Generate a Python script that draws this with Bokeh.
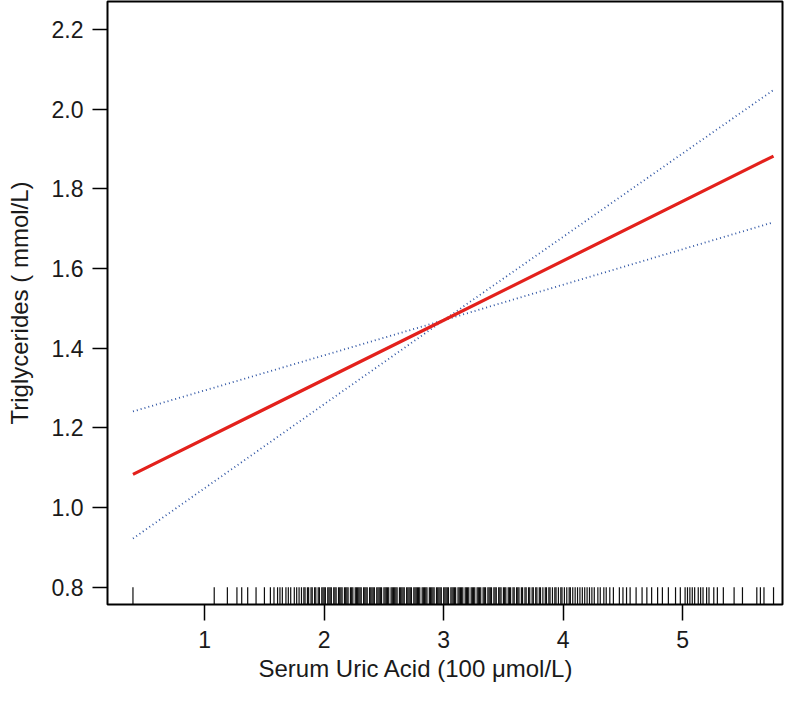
from bokeh.plotting import figure
from bokeh.models import Range1d, FixedTicker, PrintfTickFormatter, Title
from bokeh.embed import file_html
from bokeh.resources import INLINE

# fitted line and confidence band
fit_x = [0.40, 3.00, 5.76]
fit_y = [1.083, 1.470, 1.882]
lower_y = [0.922, 1.470, 1.716]
upper_y = [1.241, 1.470, 2.048]

# rug of observed serum uric acid values
rug_x = [
    0.40, 1.08, 1.19, 1.27, 1.31, 1.36, 1.43, 1.50, 1.55, 1.58, 1.61, 1.63,
    1.65, 1.68, 1.70, 1.72, 1.75, 1.77, 1.79,
    1.81, 1.83, 1.84, 1.86, 1.87, 1.89, 1.90, 1.92, 1.93, 1.95, 1.96, 1.98, 1.99,
    2.00, 2.01, 2.03, 2.04, 2.05, 2.06, 2.08, 2.09, 2.10, 2.12, 2.13, 2.14,
    2.15, 2.17, 2.18, 2.19, 2.20, 2.22, 2.23, 2.24, 2.26, 2.27, 2.28, 2.29,
    2.30, 2.31, 2.33, 2.34, 2.35, 2.36, 2.38, 2.39, 2.40, 2.41, 2.42, 2.44,
    2.45, 2.46, 2.47, 2.48, 2.50, 2.51, 2.52, 2.53, 2.54, 2.56, 2.57, 2.58,
    2.59, 2.60, 2.61, 2.63, 2.64, 2.65, 2.66, 2.67, 2.69, 2.70, 2.71, 2.72,
    2.73, 2.75, 2.76, 2.77, 2.78, 2.79, 2.80, 2.82, 2.83, 2.84, 2.85, 2.86,
    2.88, 2.89, 2.90, 2.91, 2.92, 2.94, 2.95, 2.96, 2.97, 2.98, 3.00, 3.01,
    3.02, 3.03, 3.04, 3.06, 3.07, 3.08, 3.09, 3.10, 3.12, 3.13, 3.14, 3.15,
    3.16, 3.18, 3.19, 3.20, 3.21, 3.23, 3.24, 3.25, 3.26, 3.28, 3.29, 3.30,
    3.31, 3.33, 3.34, 3.35, 3.37, 3.38, 3.39, 3.40, 3.42, 3.43, 3.44, 3.46,
    3.47, 3.48, 3.50, 3.51, 3.52, 3.54, 3.55, 3.56, 3.58, 3.59, 3.61, 3.62,
    3.63, 3.65, 3.66, 3.68, 3.69, 3.71, 3.72, 3.74, 3.75, 3.77, 3.78, 3.80,
    3.81, 3.83, 3.85, 3.86, 3.88, 3.89, 3.91, 3.93, 3.94, 3.96, 3.98, 3.99,
    4.01, 4.03, 4.05, 4.06, 4.08, 4.10, 4.12, 4.14, 4.16, 4.18, 4.20, 4.22,
    4.24, 4.26, 4.29, 4.31, 4.34, 4.36, 4.39, 4.42,
    4.47, 4.50, 4.53, 4.56, 4.61, 4.66, 4.70, 4.74, 4.79, 4.83, 4.88, 4.94,
    4.98, 5.02, 5.04, 5.06, 5.08, 5.10, 5.13, 5.15, 5.17, 5.20, 5.22, 5.26,
    5.29, 5.34, 5.43, 5.50, 5.62, 5.65, 5.68, 5.76,
]

x_ticks = [1, 2, 3, 4, 5]
y_ticks = [0.8, 1.0, 1.2, 1.4, 1.6, 1.8, 2.0, 2.2]

x_title = "Serum Uric Acid (100 \u03bcmol/L)"
y_title = "Triglycerides ( mmol/L)"

FONT = "Liberation Sans"
TXT = "#1a1a1a"

p = figure(
    width=784, height=690,
    x_range=Range1d(0.187, 5.835), y_range=Range1d(0.7565, 2.270),
    output_backend="svg", toolbar_location=None,
    min_border_left=107, min_border_right=2, min_border_top=1, min_border_bottom=86,
    background_fill_color="white", border_fill_color="white",
)
p.grid.visible = False
p.outline_line_color = "black"
p.outline_line_width = 2

for ax in (p.xaxis[0], p.yaxis[0]):
    ax.axis_line_color = None
    ax.major_tick_line_color = "black"
    ax.major_tick_line_width = 1.5
    ax.major_tick_in = 0
    ax.minor_tick_line_color = None
    ax.major_label_text_font = FONT
    ax.major_label_text_font_size = "23px"
    ax.major_label_text_color = TXT

p.xaxis.ticker = FixedTicker(ticks=x_ticks)
p.yaxis.ticker = FixedTicker(ticks=y_ticks)
p.yaxis.formatter = PrintfTickFormatter(format="%.1f")
p.xaxis.major_tick_out = 16
p.xaxis.major_label_standoff = 10
p.yaxis.major_tick_out = 15
p.yaxis.major_label_standoff = 9

p.yaxis.axis_label = y_title
p.yaxis.axis_label_text_font = FONT
p.yaxis.axis_label_text_font_size = "24px"
p.yaxis.axis_label_text_font_style = "normal"
p.yaxis.axis_label_text_color = TXT
p.yaxis.axis_label_standoff = 16

p.add_layout(Title(text=x_title, align="left", offset=151, standoff=4,
                   text_font=FONT, text_font_size="24px", text_font_style="normal",
                   text_color=TXT), "below")

# rug
p.segment(x0=rug_x, y0=[0.7565] * len(rug_x), x1=rug_x, y1=[0.80] * len(rug_x),
          line_color="black", line_width=1.2, line_alpha=0.95)

# confidence limits
p.line(fit_x, lower_y, line_color="#2f55a4", line_width=1.8, line_dash="1 3")
p.line(fit_x, upper_y, line_color="#2f55a4", line_width=1.8, line_dash="1 3")
# fitted line
p.line(fit_x, fit_y, line_color="#e3211c", line_width=3.2)

open("out.html", "w").write(file_html(p, INLINE))
